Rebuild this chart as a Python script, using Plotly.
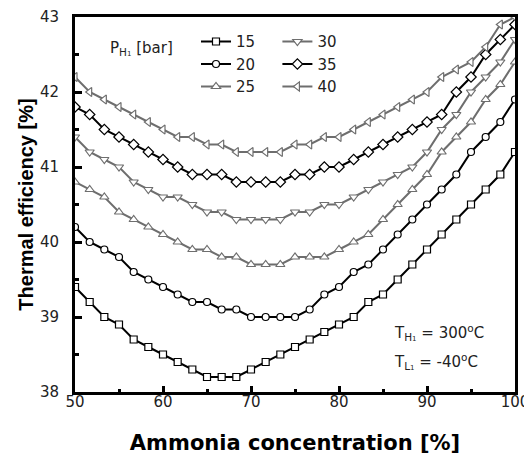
import plotly.graph_objects as go

x = [50 + i * 5 / 3 for i in range(31)]

labels = ["15", "20", "25", "30", "35", "40"]
eff_15 = [39.4,39.2,39.0,38.9,38.7,38.6,38.5,38.4,38.3,38.2,38.2,38.2,38.3,38.4,38.5,38.6,38.7,38.8,38.9,39.0,39.2,39.3,39.5,39.7,39.9,40.1,40.3,40.5,40.7,40.9,41.2]
eff_20 = [40.2,40.0,39.9,39.8,39.6,39.5,39.4,39.3,39.2,39.2,39.1,39.1,39.0,39.0,39.0,39.0,39.1,39.3,39.4,39.6,39.7,39.9,40.1,40.3,40.5,40.7,40.9,41.2,41.4,41.6,41.9]
eff_25 = [40.8,40.7,40.6,40.4,40.3,40.2,40.1,40.0,39.9,39.9,39.8,39.8,39.7,39.7,39.7,39.8,39.8,39.8,39.9,40.0,40.1,40.3,40.5,40.7,40.9,41.2,41.4,41.6,41.9,42.1,42.4]
eff_30 = [41.4,41.2,41.1,41.0,40.8,40.7,40.6,40.6,40.5,40.4,40.4,40.3,40.3,40.3,40.3,40.4,40.4,40.5,40.5,40.6,40.7,40.8,40.9,41.0,41.2,41.5,41.7,42.0,42.2,42.4,42.7]
eff_35 = [41.8,41.7,41.5,41.4,41.3,41.2,41.1,41.0,40.9,40.9,40.9,40.8,40.8,40.8,40.8,40.9,40.9,41.0,41.0,41.1,41.2,41.3,41.4,41.5,41.6,41.7,42.0,42.2,42.5,42.7,42.9]
eff_40 = [42.2,42.0,41.9,41.8,41.7,41.6,41.5,41.4,41.4,41.3,41.3,41.2,41.2,41.2,41.2,41.3,41.3,41.4,41.4,41.5,41.6,41.7,41.8,41.9,42.0,42.2,42.3,42.4,42.6,42.9,43.0]

series = [eff_15, eff_20, eff_25, eff_30, eff_35, eff_40]
symbols = ["square", "circle", "triangle-up", "triangle-down", "diamond", "triangle-left"]
BLACK = "#000000"
GRAY = "#6e6e6e"
colors = [BLACK, BLACK, GRAY, GRAY, BLACK, GRAY]
sizes = [7, 7, 8, 8, 8, 8]
legends = ["legend", "legend", "legend", "legend2", "legend2", "legend2"]

fig = go.Figure()
for lab, ys, sym, col, sz, lg in zip(labels, series, symbols, colors, sizes, legends):
    fig.add_trace(go.Scatter(
        x=x, y=ys, name=lab, mode="lines+markers",
        line=dict(color=col, width=2),
        marker=dict(symbol=sym, size=sz, color="white", line=dict(color=col, width=1.2)),
        legend=lg,
    ))

font = "Liberation Sans, Arial, sans-serif"
wide = "DejaVu Sans, Verdana, sans-serif"
legend_common = dict(
    font=dict(family=wide, size=15, color="#222"),
    bgcolor="rgba(0,0,0,0)", borderwidth=0,
    yanchor="top", xanchor="left", y=0.978,
    tracegroupgap=0, itemwidth=30,
)

# the page body adds an 8px offset; margins compensate so the plot area sits where the reference has it
fig.update_layout(
    width=532, height=455,
    margin=dict(l=67, r=25, t=9, b=71, autoexpand=False),
    paper_bgcolor="white", plot_bgcolor="white",
    font=dict(family=wide, size=15, color="#222"),
    legend=dict(x=0.275, **legend_common),
    legend2=dict(x=0.46, **legend_common),
    showlegend=True,
)

fig.update_xaxes(
    range=[50, 100], tickvals=[50, 60, 70, 80, 90, 100],
    showgrid=False, zeroline=False, automargin=False,
    showline=True, linecolor="black", linewidth=3, mirror=True,
    ticks="inside", ticklen=6, tickwidth=2.5, tickcolor="black",
    minor=dict(tickvals=[55, 65, 75, 85, 95], ticks="inside", ticklen=3, tickwidth=2.5, tickcolor="black"),
    tickfont=dict(family=wide, size=15, color="#222"),
    ticklabelstandoff=-6, ticklabeloverflow="allow",
    title=dict(text="<b>Ammonia concentration [%]</b>", font=dict(family=wide, size=21, color="black"), standoff=26),
)
fig.update_yaxes(
    range=[38, 43], tickvals=[38, 39, 40, 41, 42, 43],
    showgrid=False, zeroline=False, automargin=False,
    showline=True, linecolor="black", linewidth=3, mirror=True,
    ticks="inside", ticklen=7, tickwidth=2.5, tickcolor="black",
    minor=dict(tickvals=[38.5, 39.5, 40.5, 41.5, 42.5], ticks="inside", ticklen=4, tickwidth=2.5, tickcolor="black"),
    tickfont=dict(family=wide, size=15, color="#222"),
    ticklabelstandoff=10, ticklabeloverflow="allow",
    title=dict(text="<b>Thermal efficiency [%]</b>", font=dict(family=font, size=20, color="black"), standoff=1),
)

fig.add_annotation(
    xref="paper", yref="paper", x=0.075, y=0.915, xanchor="left", yanchor="middle",
    text="P<sub>H<span style='font-size:7px'>1</span></sub> [bar]", showarrow=False,
    font=dict(family=wide, size=15, color="#222"),
)
fig.add_annotation(
    xref="paper", yref="paper", x=0.72, y=0.16, xanchor="left", yanchor="middle",
    text="T<sub>H<span style='font-size:7px'>1</span></sub> = 300<sup>o</sup>C", showarrow=False,
    font=dict(family=wide, size=15, color="#222"),
)
fig.add_annotation(
    xref="paper", yref="paper", x=0.72, y=0.082, xanchor="left", yanchor="middle",
    text="T<sub>L<span style='font-size:7px'>1</span></sub> = -40<sup>o</sup>C", showarrow=False,
    font=dict(family=wide, size=15, color="#222"),
)

fig.write_html("out.html")
